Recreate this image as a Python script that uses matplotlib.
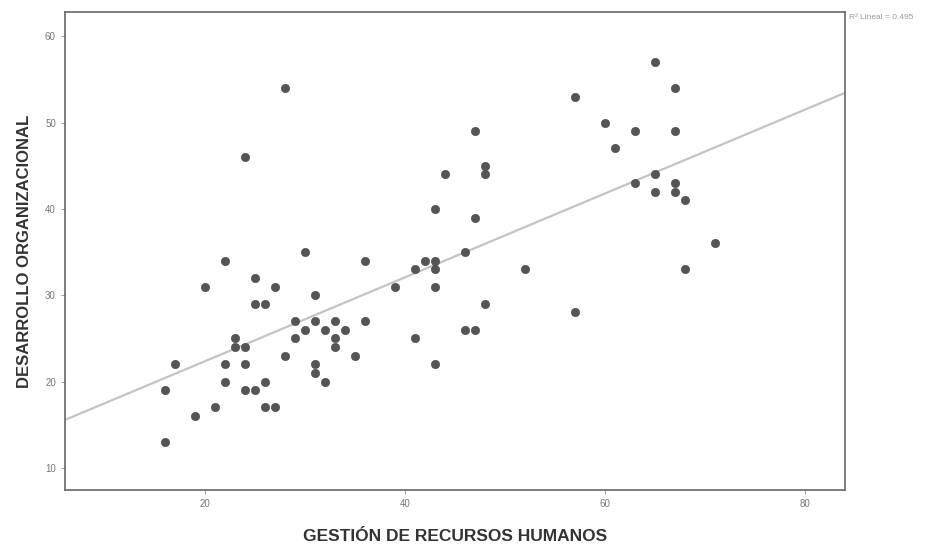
import numpy as np
import matplotlib
matplotlib.use("Agg")
import matplotlib.pyplot as plt

plt.rcParams['font.family'] = ['Liberation Sans', 'DejaVu Sans']

# GESTIÓN DE RECURSOS HUMANOS (x) vs DESARROLLO ORGANIZACIONAL (y)
gestion = [16, 16, 17, 19, 20, 21, 22, 22, 22, 23, 23, 24, 24, 24, 24,
           25, 25, 25, 26, 26, 26, 27, 27, 28, 28, 29, 29, 30, 30, 31,
           31, 31, 31, 32, 32, 33, 33, 33, 34, 35, 36, 36, 39, 41, 41,
           42, 43, 43, 43, 43, 43, 44, 46, 46, 47, 47, 47, 48, 48, 48,
           52, 57, 57, 60, 61, 63, 63, 65, 65, 65, 67, 67, 67, 67, 68,
           68, 71]
desarrollo = [13, 19, 22, 16, 31, 17, 34, 22, 20, 25, 24, 24, 46, 22, 19,
              32, 29, 19, 29, 20, 17, 31, 17, 54, 23, 27, 25, 35, 26, 30,
              27, 22, 21, 26, 20, 27, 25, 24, 26, 23, 34, 27, 31, 33, 25,
              34, 40, 34, 33, 31, 22, 44, 35, 26, 49, 39, 26, 45, 44, 29,
              33, 53, 28, 50, 47, 49, 43, 57, 44, 42, 54, 49, 43, 42, 41,
              33, 36]

x_ticks = [20, 40, 60, 80]
y_ticks = [10, 20, 30, 40, 50, 60]
r2_label = "R² Lineal = 0.495"

x = np.array(gestion, dtype=float)
y = np.array(desarrollo, dtype=float)
slope, intercept = np.polyfit(x, y, 1)

fig = plt.figure(figsize=(9.4, 5.49), dpi=100)
ax = fig.add_axes([0.069, 0.107, 0.830, 0.871])

ax.set_xlim(6, 84)
ax.set_ylim(7.4, 62.8)

xx = np.array([6, 84])
ax.plot(xx, intercept + slope * xx, color='#c4c4c4', lw=1.6, zorder=1)
ax.scatter(x, y, s=36, color='#555555', edgecolors='#444444', linewidths=0.4, zorder=2)

ax.set_xticks(x_ticks)
ax.set_yticks(y_ticks)
ax.tick_params(labelsize=7, colors='#888888', length=3, width=0.6, labelcolor='#777777')
for s in ax.spines.values():
    s.set_color('#666666')
    s.set_linewidth(1.2)

ax.set_xlabel("GESTIÓN DE RECURSOS HUMANOS", fontsize=12.5, fontweight='bold',
              color='#333333', labelpad=14)
ax.set_ylabel("DESARROLLO ORGANIZACIONAL", fontsize=12, fontweight='bold',
              color='#333333', labelpad=9)

fig.text(0.903, 0.968, r2_label, fontsize=6, color='#999999', ha='left', va='center')

fig.savefig("out.png", dpi=100)
